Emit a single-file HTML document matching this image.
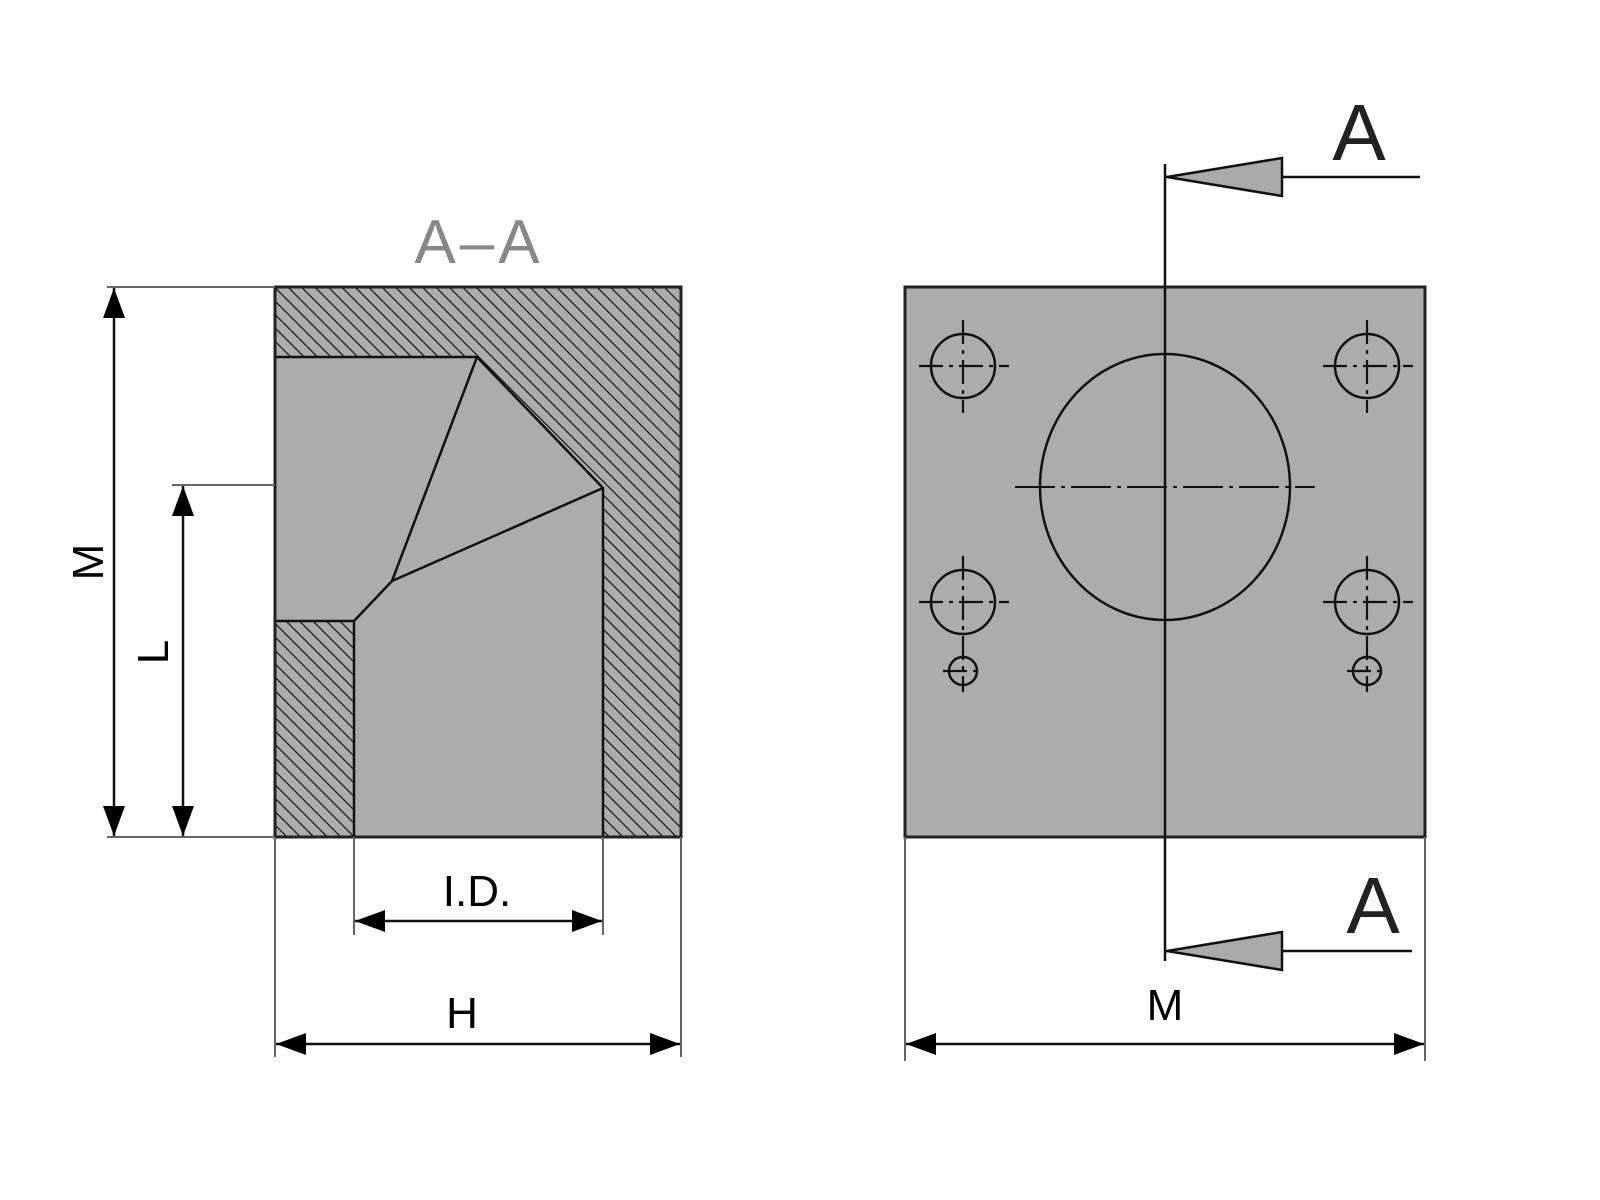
<!DOCTYPE html>
<html><head><meta charset="utf-8"><style>html,body{margin:0;padding:0;background:#fff}svg{display:block}</style></head>
<body>
<svg width="1600" height="1200" viewBox="0 0 1600 1200" xmlns="http://www.w3.org/2000/svg" font-family="Liberation Sans, sans-serif">
<defs>
<pattern id="h" patternUnits="userSpaceOnUse" width="9.5" height="9.5" patternTransform="rotate(-45)">
<rect width="9.5" height="9.5" fill="#acacac"/>
<line x1="0" y1="0" x2="0" y2="9.5" stroke="#111" stroke-width="2.4"/>
</pattern>
<marker id="ar" viewBox="0 0 30 22" refX="30" refY="11" markerWidth="30" markerHeight="22" markerUnits="userSpaceOnUse" orient="auto-start-reverse">
<path d="M0,0 L30,11 L0,22 Z" fill="#000"/>
</marker>
</defs>

<!-- LEFT SECTION VIEW -->
<rect x="275" y="287" width="406" height="550" fill="url(#h)" stroke="#222" stroke-width="3"/>
<polygon points="275,357 477,357 603,488 603,837 354,837 354,621 275,621" fill="#acacac" stroke="#111" stroke-width="2.5"/>
<rect x="275" y="287" width="406" height="550" fill="none" stroke="#222" stroke-width="3"/>
<g stroke="#111" stroke-width="2.5" fill="none">
<line x1="477" y1="357" x2="392" y2="581"/>
<line x1="392" y1="581" x2="603" y2="488"/>
<line x1="392" y1="581" x2="354" y2="621"/>
</g>
<text x="479" y="263" font-size="62" fill="#888" text-anchor="middle" style="letter-spacing:4px">A–A</text>

<!-- dimension lines left -->
<g stroke="#666" stroke-width="2">
<line x1="107" y1="287" x2="275" y2="287"/>
<line x1="107" y1="837" x2="275" y2="837"/>
<line x1="172" y1="485" x2="275" y2="485"/>
<line x1="275" y1="837" x2="275" y2="1057"/>
<line x1="681" y1="837" x2="681" y2="1057"/>
<line x1="354" y1="837" x2="354" y2="935"/>
<line x1="603" y1="837" x2="603" y2="935"/>
</g>
<g stroke="#111" stroke-width="2.5">
<line x1="114" y1="288" x2="114" y2="836" marker-start="url(#ar)" marker-end="url(#ar)"/>
<line x1="183" y1="486" x2="183" y2="836" marker-start="url(#ar)" marker-end="url(#ar)"/>
<line x1="355" y1="921" x2="602" y2="921" marker-start="url(#ar)" marker-end="url(#ar)"/>
<line x1="276" y1="1044" x2="680" y2="1044" marker-start="url(#ar)" marker-end="url(#ar)"/>
</g>
<g font-size="44" fill="#000" text-anchor="middle">
<text x="0" y="0" transform="translate(103,562) rotate(-90)">M</text>
<text x="0" y="0" transform="translate(168,652) rotate(-90)">L</text>
<text x="477" y="906">I.D.</text>
<text x="462" y="1028">H</text>
<text x="1165" y="1020">M</text>
</g>

<!-- RIGHT VIEW -->
<rect x="905" y="287" width="520" height="550" fill="#acacac" stroke="#222" stroke-width="3"/>
<ellipse cx="1165" cy="487" rx="125" ry="133" fill="none" stroke="#111" stroke-width="2.5"/>
<g stroke="#111" stroke-width="2" stroke-dasharray="40,6,4,6">
<line x1="1015" y1="487" x2="1315" y2="487"/>
</g>
<line x1="1165" y1="164" x2="1165" y2="961" stroke="#111" stroke-width="2.5"/>

<g fill="none" stroke="#111" stroke-width="2.5">
<circle cx="963" cy="366" r="32"/>
<circle cx="1367" cy="366" r="32"/>
<circle cx="963" cy="602" r="32"/>
<circle cx="1367" cy="602" r="32"/>
<circle cx="963" cy="671" r="14"/>
<circle cx="1367" cy="671" r="14"/>
</g>
<g stroke="#111" stroke-width="2.2" stroke-dasharray="24,6,4,6">
<line x1="919" y1="366" x2="1009" y2="366"/>
<line x1="963" y1="320" x2="963" y2="413"/>
<line x1="1323" y1="366" x2="1413" y2="366"/>
<line x1="1367" y1="320" x2="1367" y2="413"/>
<line x1="919" y1="602" x2="1009" y2="602"/>
<line x1="963" y1="556" x2="963" y2="692"/>
<line x1="1323" y1="602" x2="1413" y2="602"/>
<line x1="1367" y1="556" x2="1367" y2="692"/>
<line x1="943" y1="671" x2="983" y2="671"/>
<line x1="1347" y1="671" x2="1387" y2="671"/>
</g>

<!-- section arrows -->
<g stroke="#111" stroke-width="2.5">
<line x1="1165" y1="177" x2="1420" y2="177"/>
<polygon points="1167,177 1282,158 1282,196" fill="#aaa"/>
<line x1="1165" y1="951" x2="1412" y2="951"/>
<polygon points="1167,951 1282,932 1282,970" fill="#aaa"/>
</g>
<g font-size="80" fill="#222" text-anchor="middle">
<text x="1359" y="160">A</text>
<text x="1373" y="933">A</text>
</g>

<g stroke="#666" stroke-width="2">
<line x1="905" y1="837" x2="905" y2="1061"/>
<line x1="1425" y1="837" x2="1425" y2="1061"/>
</g>
<line x1="906" y1="1044" x2="1424" y2="1044" stroke="#111" stroke-width="2.5" marker-start="url(#ar)" marker-end="url(#ar)"/>
</svg>
</body></html>
